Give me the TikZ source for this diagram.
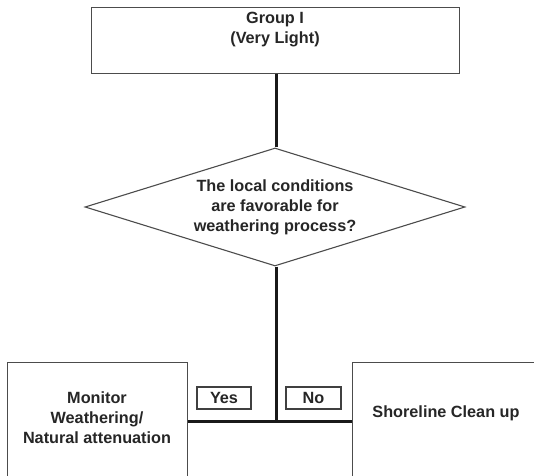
\documentclass[tikz,border=0pt]{standalone}
\usepackage{fontspec}
\setmainfont{Liberation Sans}
\usetikzlibrary{shapes.geometric}
\begin{document}
\begin{tikzpicture}[x=1bp,y=-1bp,
  every node/.style={font=\bfseries\fontsize{16.3}{20}\selectfont, text=black!85, align=center},
  frame/.style={draw=black!70, line width=1.1bp, inner sep=0pt},
  tag/.style={draw=black!75, line width=1.1bp, minimum width=54bp, minimum height=22bp, inner sep=0pt},
  link/.style={draw=black!90, line width=3bp}]
  \useasboundingbox (0,0) rectangle (534,476);
  \clip (0,0) rectangle (534,476);
  \fill[white] (0,0) rectangle (534,476);

  % top box
  \node[frame, minimum width=368bp, minimum height=66bp, anchor=north west] (group) at (91,7) {};
  \node (grouptext) at (275,29.5) {Group I\\(Very Light)};

  % decision
  \node[frame, diamond, aspect=3.2, minimum width=380bp, minimum height=118bp, inner sep=0pt] (cond) at (275,207)
    {The local conditions\\are favorable for\\weathering process?};

  % outcome boxes (run past the lower edge)
  \node[frame, minimum width=180bp, minimum height=150bp, anchor=north west] (monitor) at (7,362) {};
  \node (monitortext) at (97,418) {Monitor\\Weathering/\\Natural attenuation};
  \node[frame, minimum width=195bp, minimum height=150bp, anchor=north west] (clean) at (352,362) {};
  \node (cleantext) at (446,413) {Shoreline Clean up};

  % connectors
  \coordinate (split) at (276,421);
  \draw[link] (group.south -| split) -- (cond.north -| split);
  \draw[link] (cond.south -| split) -- (split);
  \draw[link] (split -| monitor.east) -- (split -| clean.west);

  % branch labels
  \node[tag] (yes) at (224,398) {Yes};
  \node[tag, minimum width=55bp] (no) at (313.5,398) {No};
\end{tikzpicture}
\end{document}
